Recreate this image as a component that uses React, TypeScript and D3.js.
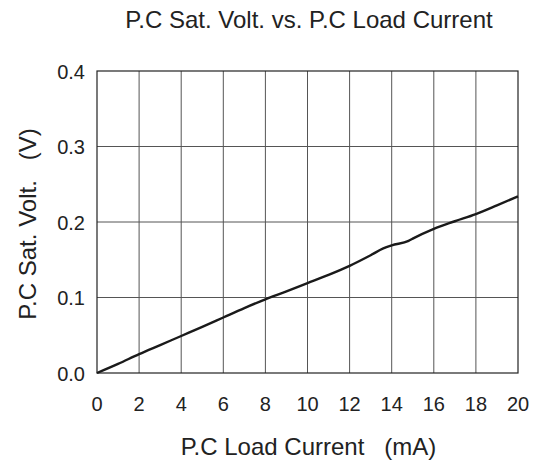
import React from "react";
import * as d3 from "d3";

const currents = [0, 1, 2, 3, 4, 5, 6, 7, 8, 9, 10, 11, 12, 13, 13.6, 14, 14.8, 15, 16, 17, 18, 19, 20];
const volts = [0, 0.012, 0.025, 0.037, 0.049, 0.061, 0.0735, 0.086, 0.0975, 0.108, 0.119, 0.13, 0.142, 0.156, 0.165, 0.169, 0.175, 0.178, 0.191, 0.201, 0.2105, 0.222, 0.234];
const xTicks = [0, 2, 4, 6, 8, 10, 12, 14, 16, 18, 20];
const yTicks = [0, 0.1, 0.2, 0.3, 0.4];

export default function App() {
  const W = 542, H = 465;
  const left = 97, right = 518, top = 71, bottom = 373;
  const x = d3.scaleLinear().domain([0, 20]).range([left, right]);
  const y = d3.scaleLinear().domain([0, 0.4]).range([bottom, top]);
  const line = d3.line<number>().x((_, i) => x(currents[i])).y((d) => y(d)).curve(d3.curveMonotoneX);
  const font = "'Liberation Sans', Arial, sans-serif";
  const tc = "#222";
  return (
    <svg width={W} height={H} style={{ position: "absolute", left: 0, top: 0 }} fontFamily={font}>
      <rect width={W} height={H} fill="#fff" />
      {xTicks.slice(1, -1).map((t) => (
        <line key={"gx" + t} x1={x(t)} x2={x(t)} y1={top} y2={bottom} stroke="#555" strokeWidth={1} />
      ))}
      {yTicks.slice(1, -1).map((t) => (
        <line key={"gy" + t} x1={left} x2={right} y1={y(t)} y2={y(t)} stroke="#555" strokeWidth={1} />
      ))}
      <rect x={left} y={top} width={right - left} height={bottom - top} fill="none" stroke="#222" strokeWidth={1.2} />
      <path d={line(volts) || ""} fill="none" stroke="#1a1a1a" strokeWidth={2.4} />
      {xTicks.map((t) => (
        <text key={"tx" + t} x={x(t)} y={411} textAnchor="middle" fontSize={20} fill={tc}>
          {t}
        </text>
      ))}
      {yTicks.map((t) => (
        <text key={"ty" + t} x={left - 12} y={y(t) + 7.5} textAnchor="end" fontSize={20} fill={tc}>
          {t.toFixed(1)}
        </text>
      ))}
      <text x={309} y={28} textAnchor="middle" fontSize={24} fill={tc}>
        P.C Sat. Volt. vs. P.C Load Current
      </text>
      <text x={308.5} y={455} textAnchor="middle" fontSize={24} fill={tc} style={{ whiteSpace: "pre" }}>
        {"P.C Load Current   (mA)"}
      </text>
      <text transform={`translate(36,224) rotate(-90)`} textAnchor="middle" fontSize={24} fill={tc} style={{ whiteSpace: "pre" }}>
        {"P.C Sat. Volt.   (V)"}
      </text>
    </svg>
  );
}
